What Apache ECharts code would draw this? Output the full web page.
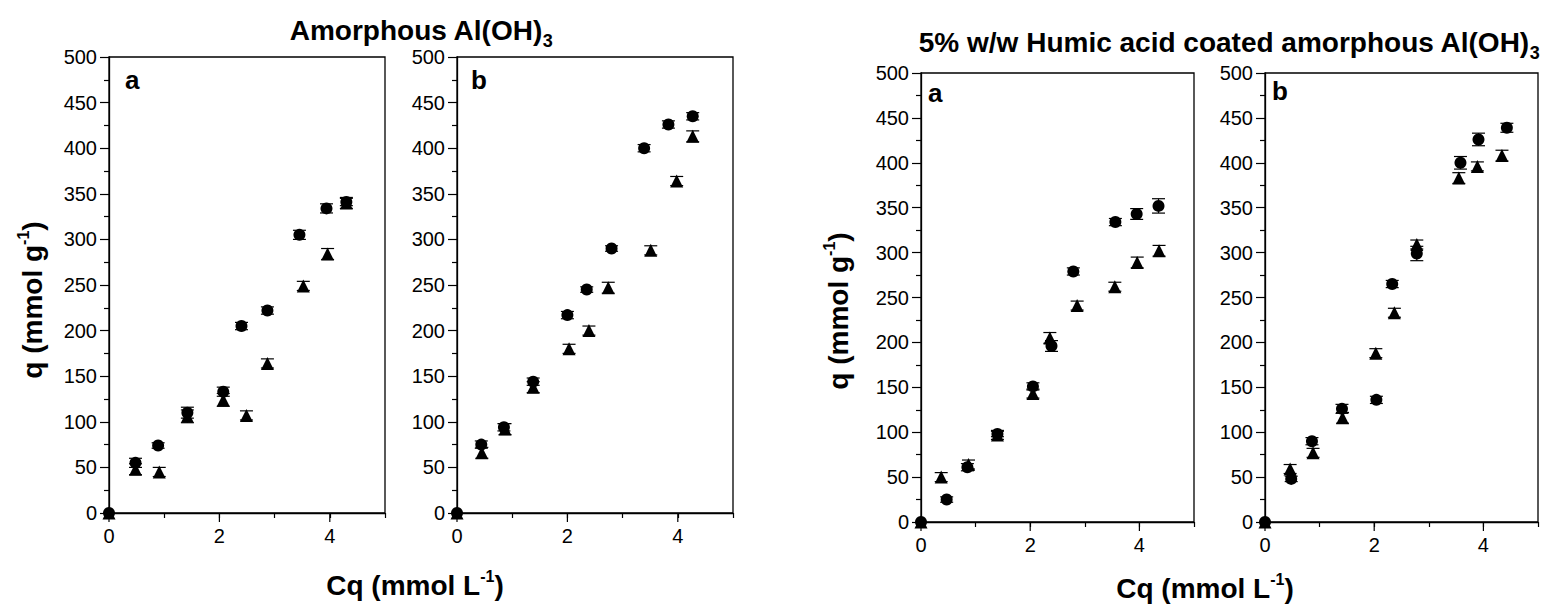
<!DOCTYPE html>
<html>
<head>
<meta charset="utf-8">
<script src="https://cdn.jsdelivr.net/npm/echarts@6/dist/echarts.min.js"></script>
<style>
html,body{margin:0;padding:0;background:#fff;}
#chart{width:1543px;height:605px;}
</style>
</head>
<body>
<div id="chart"></div>
<script>
// ---- Data ----
// Panel 1: Amorphous Al(OH)3, a
const p1CircleX = [0, 0.48, 0.89, 1.42, 2.07, 2.40, 2.87, 3.45, 3.94, 4.30];
const p1CircleY = [0, 55, 74, 110, 133, 205, 222, 305, 334, 341];
const p1CircleErr = [0, 5, 3, 6, 5, 4, 4, 5, 5, 4];
const p1TriX = [0, 0.48, 0.91, 1.42, 2.07, 2.49, 2.87, 3.52, 3.96, 4.30];
const p1TriY = [0, 48, 45, 106, 124, 107, 164, 249, 284, 340];
const p1TriErr = [0, 6, 5, 7, 7, 5, 5, 5, 6, 6];
// Panel 2: Amorphous Al(OH)3, b
const p2CircleX = [0, 0.44, 0.85, 1.38, 2.00, 2.35, 2.80, 3.39, 3.83, 4.27];
const p2CircleY = [0, 75, 94, 144, 217, 245, 290, 400, 426, 435];
const p2CircleErr = [0, 4, 4, 4, 4, 3, 3, 4, 4, 4];
const p2TriX = [0, 0.45, 0.87, 1.38, 2.03, 2.39, 2.74, 3.51, 3.98, 4.27];
const p2TriY = [0, 66, 92, 138, 180, 200, 247, 288, 364, 413];
const p2TriErr = [0, 6, 6, 6, 5, 5, 6, 5, 5, 6];
// Panel 3: Humic acid coated, a
const p3CircleX = [0, 0.47, 0.85, 1.40, 2.05, 2.39, 2.79, 3.56, 3.95, 4.35];
const p3CircleY = [0, 25, 61, 98, 151, 196, 279, 334, 343, 352];
const p3CircleErr = [0, 3, 4, 3, 4, 6, 4, 4, 6, 8];
const p3TriX = [0, 0.37, 0.87, 1.40, 2.05, 2.36, 2.86, 3.55, 3.96, 4.36];
const p3TriY = [0, 50, 64, 97, 143, 205, 241, 262, 289, 302];
const p3TriErr = [0, 5, 5, 5, 5, 6, 5, 5, 6, 6];
// Panel 4: Humic acid coated, b
const p4CircleX = [0, 0.48, 0.86, 1.41, 2.04, 2.33, 2.78, 3.58, 3.91, 4.43];
const p4CircleY = [0, 48, 90, 126, 136, 265, 299, 400, 426, 439];
const p4CircleErr = [0, 3, 4, 5, 4, 4, 8, 7, 7, 5];
const p4TriX = [0, 0.46, 0.88, 1.42, 2.03, 2.37, 2.78, 3.55, 3.89, 4.34];
const p4TriY = [0, 59, 77, 116, 188, 233, 309, 383, 396, 408];
const p4TriErr = [0, 5, 5, 6, 5, 5, 5, 6, 5, 6];

const xTickLabels = ['0', '2', '4'];
const xMajorTicks = [0, 2, 4];
const panelLetters = ['a', 'b', 'a', 'b'];
const leftTitle = 'Amorphous Al(OH)';
const rightTitle = '5% w/w Humic acid coated amorphous Al(OH)';
const titleSub = '3';
const yTitle = 'q (mmol g';
const xTitle = 'Cq (mmol L';
const supText = '-1';

// ---- Layout ----
const FONT = '"Liberation Sans", Arial, sans-serif';
const grids = [
  {left: 109, top: 57, width: 276, height: 456},
  {left: 457, top: 57, width: 276, height: 456},
  {left: 921, top: 73, width: 273, height: 449},
  {left: 1265, top: 73, width: 273, height: 449}
];

const panels = [
  [p1CircleX, p1CircleY, p1CircleErr, p1TriX, p1TriY, p1TriErr],
  [p2CircleX, p2CircleY, p2CircleErr, p2TriX, p2TriY, p2TriErr],
  [p3CircleX, p3CircleY, p3CircleErr, p3TriX, p3TriY, p3TriErr],
  [p4CircleX, p4CircleY, p4CircleErr, p4TriX, p4TriY, p4TriErr]
];

function zip(xs, ys, es) {
  return xs.map((x, i) => es ? [x, ys[i], es[i]] : [x, ys[i]]);
}

function errRender(params, api) {
  const x = api.value(0), y = api.value(1), e = api.value(2);
  if (!e) return null;
  const t = api.coord([x, y + e]);
  const b = api.coord([x, y - e]);
  const w = 6.5;
  const st = {stroke: '#000', lineWidth: 1.2};
  return {
    type: 'group',
    children: [
      {type: 'line', shape: {x1: t[0], y1: t[1], x2: b[0], y2: b[1]}, style: st},
      {type: 'line', shape: {x1: t[0] - w, y1: t[1], x2: t[0] + w, y2: t[1]}, style: st},
      {type: 'line', shape: {x1: b[0] - w, y1: b[1], x2: b[0] + w, y2: b[1]}, style: st}
    ]
  };
}

// longer (major) ticks on the x axis at the labelled values
function majorTickRender(params, api) {
  const p = api.coord([api.value(0), 0]);
  return {type: 'line', shape: {x1: p[0], y1: p[1], x2: p[0], y2: p[1] + 9},
          style: {stroke: '#000', lineWidth: 1.2}};
}

const xAxes = [], yAxes = [], series = [];
grids.forEach((g, i) => {
  xAxes.push({
    type: 'value', gridIndex: i, min: 0, max: 5, interval: 1,
    axisLine: {show: true, lineStyle: {color: '#000', width: 1.3}},
    axisTick: {show: true, length: 5, lineStyle: {color: '#000', width: 1.2}},
    splitLine: {show: false},
    axisLabel: {
      color: '#000', fontSize: 20, fontFamily: FONT, margin: 13,
      formatter: v => { const s = String(v); return xTickLabels.indexOf(s) >= 0 ? s : ''; }
    }
  });
  yAxes.push({
    type: 'value', gridIndex: i, min: 0, max: 500, interval: 50,
    axisLine: {show: true, lineStyle: {color: '#000', width: 1.3}},
    axisTick: {show: true, length: 9, lineStyle: {color: '#000', width: 1.2}},
    minorTick: {show: true, splitNumber: 2, length: 5, lineStyle: {color: '#000', width: 1.2}},
    splitLine: {show: false},
    minorSplitLine: {show: false},
    axisLabel: {color: '#000', fontSize: 20, fontFamily: FONT, margin: 12}
  });
  const d = panels[i];
  series.push({
    type: 'custom', xAxisIndex: i, yAxisIndex: i, renderItem: majorTickRender,
    data: xMajorTicks.map(v => [v, 0]), encode: {x: 0, y: 1}, z: 0, clip: false, silent: true
  });
  series.push({
    type: 'custom', xAxisIndex: i, yAxisIndex: i, renderItem: errRender,
    data: zip(d[0], d[1], d[2]), encode: {x: 0, y: 1}, z: 1, clip: true
  });
  series.push({
    type: 'custom', xAxisIndex: i, yAxisIndex: i, renderItem: errRender,
    data: zip(d[3], d[4], d[5]), encode: {x: 0, y: 1}, z: 1, clip: true
  });
  series.push({
    type: 'scatter', xAxisIndex: i, yAxisIndex: i, symbol: 'circle', symbolSize: 12,
    itemStyle: {color: '#000', opacity: 1}, data: zip(d[0], d[1]), z: 3, clip: true
  });
  series.push({
    type: 'scatter', xAxisIndex: i, yAxisIndex: i, symbol: 'triangle', symbolSize: 13,
    itemStyle: {color: '#000', opacity: 1}, data: zip(d[3], d[4]), z: 3, clip: true
  });
});

const mainRich = {
  t: {fontSize: 28, fontWeight: 'bold', fontFamily: FONT, fill: '#000', lineHeight: 40},
  s: {fontSize: 18, fontWeight: 'bold', fontFamily: FONT, fill: '#000', lineHeight: 18, verticalAlign: 'bottom'}
};
const axisRich = {
  t: {fontSize: 28, fontWeight: 'bold', fontFamily: FONT, fill: '#000', lineHeight: 34},
  u: {fontSize: 16, fontWeight: 'bold', fontFamily: FONT, fill: '#000', lineHeight: 16, verticalAlign: 'top'}
};

function richText(x, y, text, rich, rotation) {
  return {
    type: 'text', x: x, y: y, rotation: rotation || 0,
    style: {text: text, rich: rich, align: 'center', verticalAlign: 'middle', fill: '#000'}
  };
}

const letterPos = [[125, 80], [471, 80], [928, 93], [1272, 91]];
const graphics = [
  richText(421, 30, '{t|' + leftTitle + '}{s|' + titleSub + '}', mainRich),
  richText(1229, 42, '{t|' + rightTitle + '}{s|' + titleSub + '}', mainRich),
  richText(415, 585, '{t|' + xTitle + '}{u|' + supText + '}{t|)}', axisRich),
  richText(1205, 588, '{t|' + xTitle + '}{u|' + supText + '}{t|)}', axisRich),
  richText(32, 300, '{t|' + yTitle + '}{u|' + supText + '}{t|)}', axisRich, Math.PI / 2),
  richText(838, 311, '{t|' + yTitle + '}{u|' + supText + '}{t|)}', axisRich, Math.PI / 2)
];
letterPos.forEach((p, i) => {
  graphics.push({
    type: 'text', x: p[0], y: p[1],
    style: {text: panelLetters[i], fontSize: 26, fontWeight: 'bold', fontFamily: FONT,
            fill: '#000', align: 'left', verticalAlign: 'middle'}
  });
});

const chart = echarts.init(document.getElementById('chart'), null, {renderer: 'svg'});
chart.setOption({
  animation: false,
  backgroundColor: '#fff',
  grid: grids.map(g => Object.assign({show: true, borderColor: '#000', borderWidth: 1.3,
                                      backgroundColor: 'transparent', containLabel: false}, g)),
  xAxis: xAxes,
  yAxis: yAxes,
  series: series,
  graphic: graphics
});
</script>
</body>
</html>
